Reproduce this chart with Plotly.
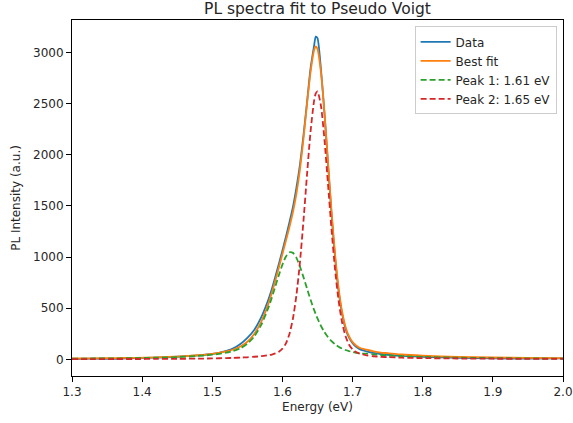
import plotly.graph_objects as go

# Shared energy grid (eV)
energy = [1.30, 1.33, 1.36, 1.39, 1.42, 1.45, 1.48, 1.50, 1.52, 1.53, 1.54, 1.55,
          1.56, 1.57, 1.58, 1.585, 1.59, 1.595, 1.60, 1.605, 1.61, 1.615, 1.62,
          1.625, 1.63, 1.635, 1.64, 1.645, 1.6475, 1.65, 1.655, 1.66, 1.665, 1.67,
          1.675, 1.68, 1.685, 1.69, 1.695, 1.70, 1.705, 1.71, 1.72, 1.73, 1.74,
          1.75, 1.77, 1.80, 1.85, 1.90, 1.95, 2.00]

data_counts = [3, 6, 5, 12, 16, 25, 38, 52, 84, 108, 150, 210,
               290, 415, 585, 690, 810, 935, 1065, 1200, 1340, 1490, 1680,
               1905, 2190, 2510, 2840, 3060, 3155, 3140, 2830, 2400, 1910, 1420,
               1000, 675, 450, 300, 212, 158, 122, 100, 78, 62, 52,
               45, 34, 24, 14, 10, 7, 9]

peak1 = [6, 8, 9, 12, 16, 22, 33, 45, 65, 82, 108, 152,
         225, 340, 505, 606, 715, 825, 926, 1005, 1046, 1041, 992,
         907, 804, 693, 585, 486, 442, 400, 326, 265, 216, 177,
         147, 123, 105, 91, 80, 71, 64, 58, 55, 48, 42,
         38, 31, 24, 16, 12, 9, 7]

peak2 = [2, 2, 3, 3, 4, 5, 7, 9, 12, 14, 17, 20,
         25, 31, 40, 47, 58, 75, 104, 156, 248, 399, 630,
         951, 1354, 1801, 2221, 2522, 2600, 2620, 2476, 2143, 1711, 1269,
         880, 576, 363, 226, 143, 97, 71, 55, 39, 30, 24,
         22, 16, 12, 8, 6, 5, 4]

best_fit = [8, 10, 12, 15, 20, 27, 40, 54, 77, 96, 125, 172,
            250, 371, 545, 653, 773, 900, 1030, 1161, 1294, 1440, 1622,
            1858, 2158, 2494, 2806, 3020, 3060, 3035, 2802, 2408, 1927, 1446,
            1027, 699, 468, 317, 223, 168, 135, 113, 94, 78, 66,
            60, 47, 36, 24, 18, 14, 11]

labels = ["Data", "Best fit", "Peak 1: 1.61 eV", "Peak 2: 1.65 eV"]
colors = ["#1f77b4", "#ff7f0e", "#2ca02c", "#d62728"]

x_ticks = [1.3, 1.4, 1.5, 1.6, 1.7, 1.8, 1.9, 2.0]
y_ticks = [0, 500, 1000, 1500, 2000, 2500, 3000]

FONT = "DejaVu Sans"

fig = go.Figure()
series = [data_counts, best_fit, peak1, peak2]
dashes = ["solid", "solid", "6px,3px", "6px,3px"]
for name, vals, col, dash in zip(labels, series, colors, dashes):
    fig.add_trace(go.Scatter(
        x=energy, y=vals, mode="lines", name=name,
        line=dict(color=col, width=1.8, dash=dash, shape="spline", smoothing=0.6),
    ))

axis_common = dict(
    showgrid=False, zeroline=False, showline=True, linecolor="black",
    linewidth=1, mirror=True, ticks="outside", ticklen=5, tickwidth=1,
    tickcolor="black", tickfont=dict(family=FONT, size=12, color="#262626"),
    automargin=False,
)

fig.update_layout(
    width=573, height=423,
    margin=dict(l=72, r=10, t=20, b=47),
    paper_bgcolor="white", plot_bgcolor="white",
    font=dict(family=FONT, size=12, color="#262626"),
    title=dict(text="PL spectra fit to Pseudo Voigt", x=0.5, xref="paper",
               xanchor="center", y=1 - 9 / 423, yanchor="middle",
               font=dict(family=FONT, size=15.5, color="#262626")),
    xaxis=dict(range=[1.3, 2.0], tickvals=x_ticks,
               ticktext=[f"{v:.1f}" for v in x_ticks],
               title=dict(text="Energy (eV)", standoff=4,
                          font=dict(family=FONT, size=12)),
               **axis_common),
    yaxis=dict(range=[-163, 3318], tickvals=y_ticks,
               ticktext=[str(v) for v in y_ticks],
               title=dict(text="PL Intensity (a.u.)", standoff=9,
                          font=dict(family=FONT, size=12)),
               **axis_common),
    legend=dict(x=0.987, y=0.982, xanchor="right", yanchor="top",
                bgcolor="rgba(255,255,255,0.8)", bordercolor="#cccccc",
                borderwidth=1, font=dict(family=FONT, size=12, color="#262626"),
                tracegroupgap=0),
    showlegend=True,
)

fig.write_html("out.html")
